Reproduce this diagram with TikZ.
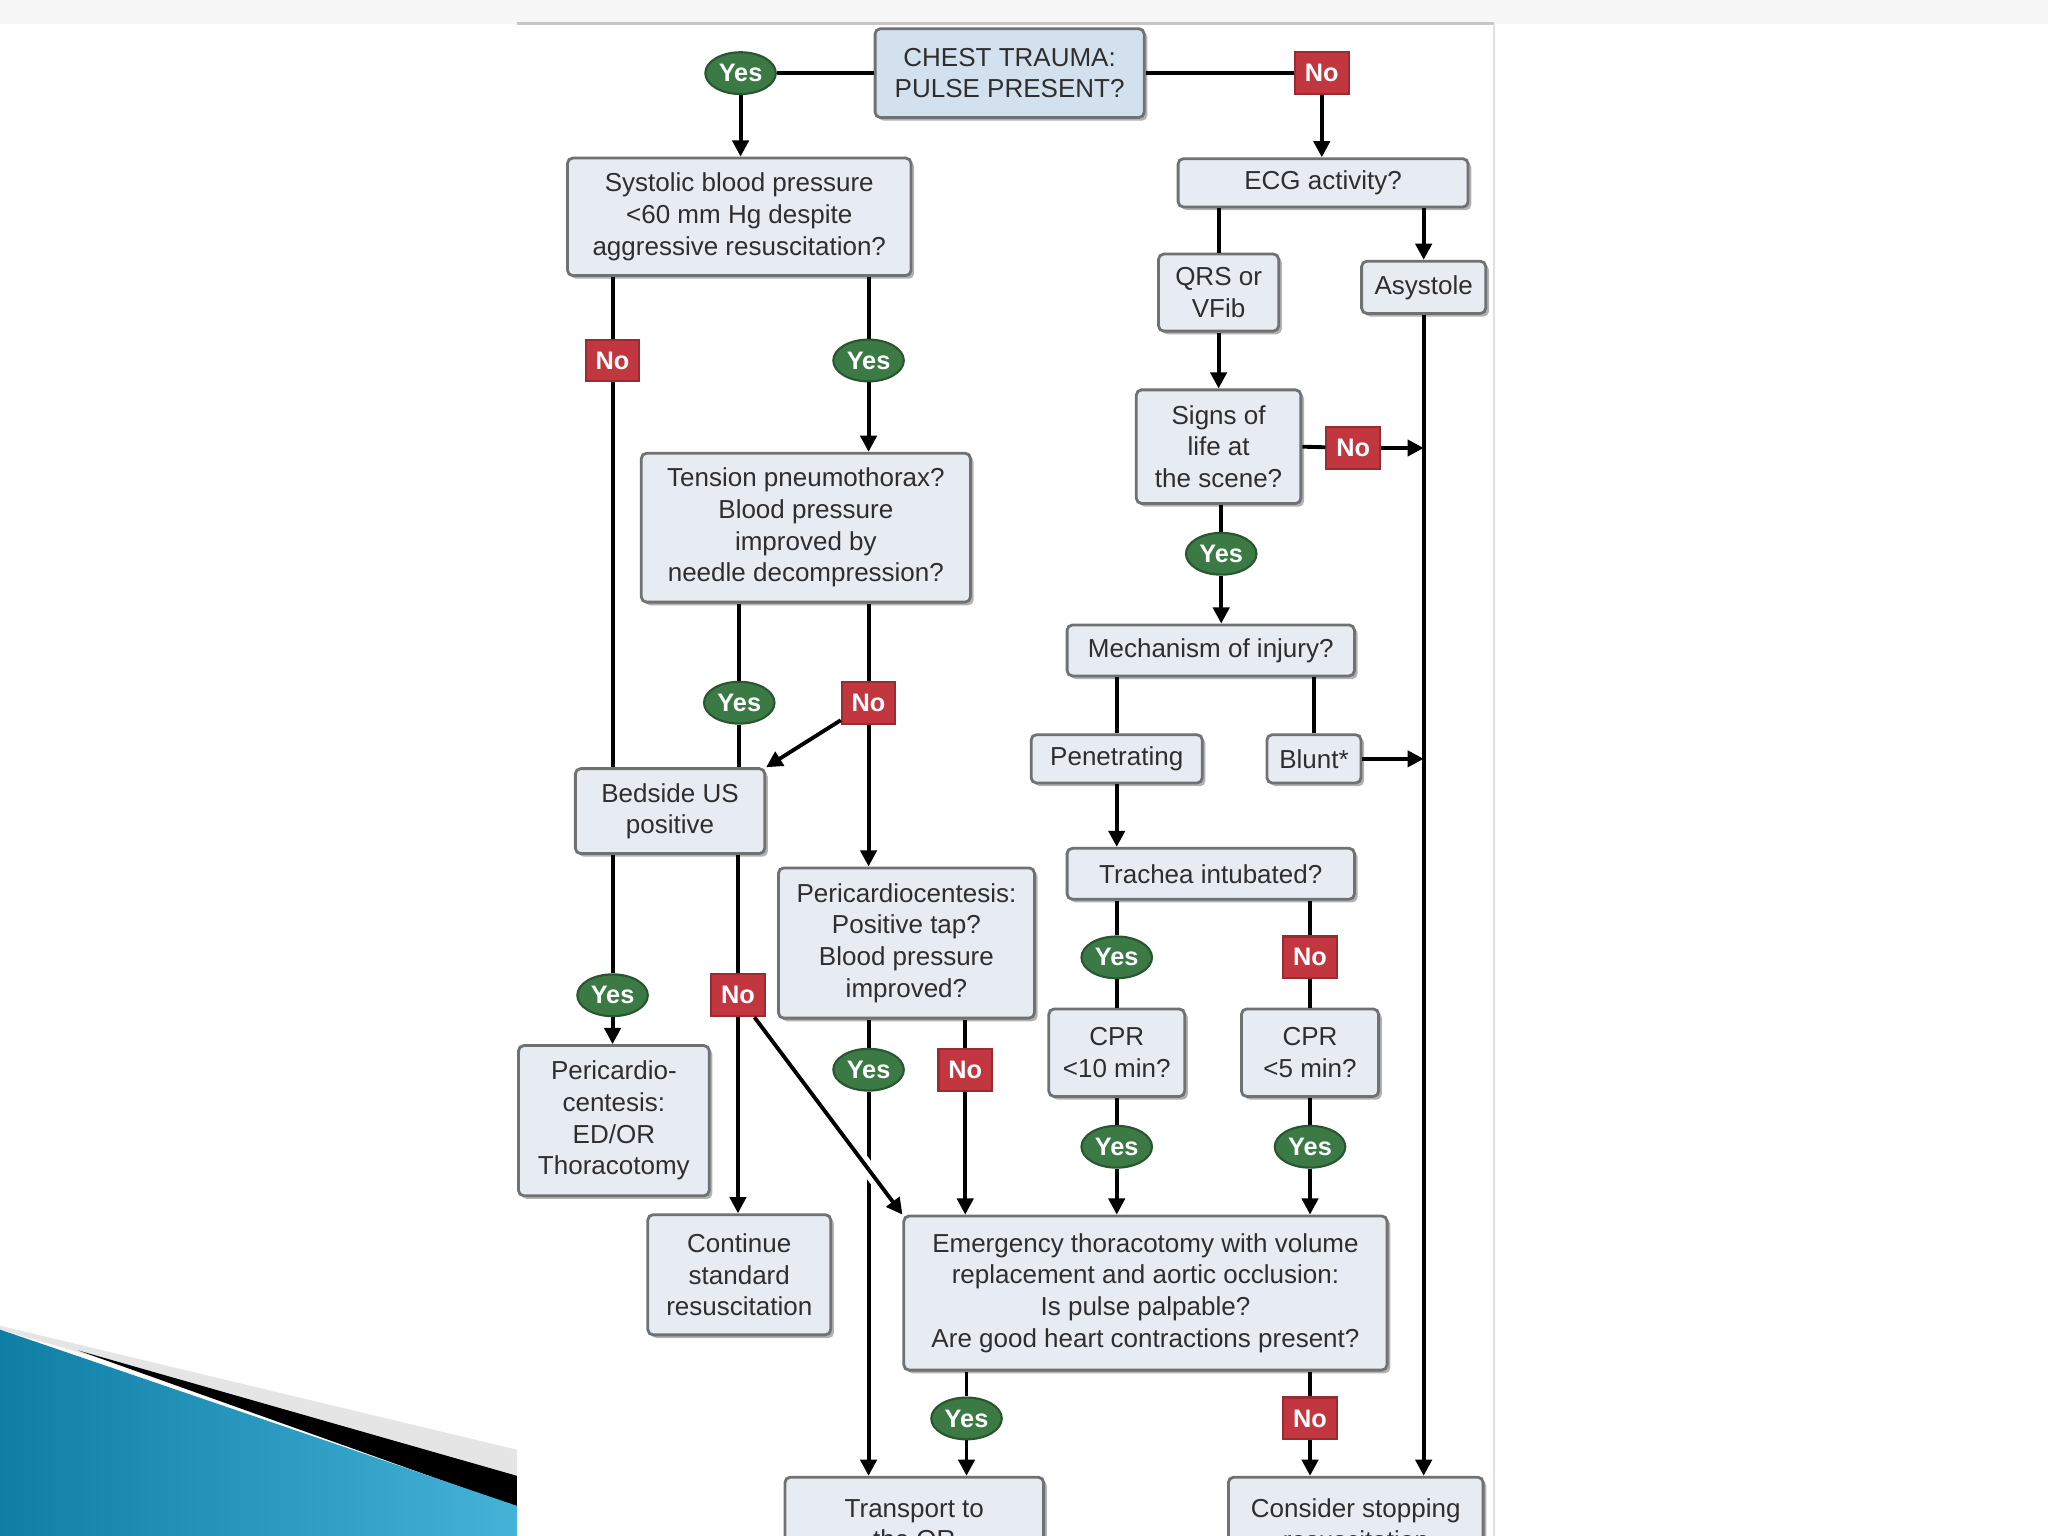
\documentclass[tikz,border=0pt]{standalone}
\usepackage{fontspec}
\setmainfont{Liberation Sans}
\usetikzlibrary{shapes.geometric,arrows.meta,shadows,calc}
\definecolor{boxfill}{HTML}{E7ECF2}
\definecolor{chestfill}{HTML}{D3E1EE}
\definecolor{boxline}{HTML}{6F7173}
\definecolor{yesgreen}{HTML}{3B7A45}
\definecolor{nored}{HTML}{C2363F}
\definecolor{txt}{HTML}{2E2E2E}
\definecolor{swdark}{HTML}{0F7EA5}
\definecolor{swlight}{HTML}{45B3D8}
\begin{document}
\begin{tikzpicture}[x=0.01306cm,y=-0.01306cm,
 box/.style={draw=boxline, line width=0.8pt, fill=boxfill, rounded corners=1.5pt, align=center, text=txt,
   font=\fontsize{7.4}{9}\selectfont, inner sep=1pt,
   drop shadow={shadow xshift=0.9pt,shadow yshift=-0.9pt,opacity=0.3,fill=black}},
 sz/.style 2 args={minimum width=#1*0.01306cm, minimum height=#2*0.01306cm},
 yes/.style={ellipse, fill=yesgreen, draw=yesgreen!70!black, line width=0.6pt, text=white,
   font=\fontsize{7.2}{8}\selectfont\bfseries, inner sep=0pt,
   minimum width=54*0.01306cm, minimum height=32*0.01306cm},
 no/.style={rectangle, fill=nored, draw=nored!80!black, line width=0.6pt, text=white,
   font=\fontsize{7.2}{8}\selectfont\bfseries, inner sep=0pt,
   minimum width=41*0.01306cm, minimum height=32*0.01306cm},
 conn/.style={line width=1.1pt, draw=black},
 arr/.style={conn, -{Triangle[length=4.6pt,width=4.6pt]}}
]
\useasboundingbox (0,0) rectangle (1568,1176);
\begin{scope}
\clip (0,0) rectangle (1568,1176);
% slide background
\fill[white] (0,0) rectangle (1568,1176);
\fill[black!3] (0,0) rectangle (1568,18);
% swoosh
\fill[black!10] (0,1015) -- (396,1110) -- (396,1132) -- (0,1018) -- cycle;
\fill[black] (60,1034) -- (396,1130) -- (396,1154) -- cycle;
\shade[left color=swdark, right color=swlight] (0,1018) -- (396,1153) -- (396,1176) -- (0,1176) -- cycle;
% panel
\fill[white] (396,18) rectangle (1144,1176);
\draw[black!22, line width=0.6pt] (396,18) -- (1144,18);
\draw[black!12, line width=0.6pt] (1144,18) -- (1144,1176);

% boxes
\node[box, sz={206}{68}, fill=chestfill] (chest) at (773,56) {CHEST TRAUMA:\\PULSE PRESENT?};
\node[box, sz={263}{90}] (sys) at (566,166) {Systolic blood pressure\\<60 mm Hg despite\\aggressive resuscitation?};
\node[box, sz={222}{37}] (ecg) at (1013,140) {ECG activity?};
\node[box, sz={92}{59}] (qrs) at (933,224) {QRS or\\VFib};
\node[box, sz={95}{40}] (asy) at (1090,220) {Asystole};
\node[box, sz={252}{114}] (tens) at (617,404) {Tension pneumothorax?\\Blood pressure\\improved by\\needle decompression?};
\node[box, sz={126}{87}] (signs) at (933,342) {Signs of\\life at\\the scene?};
\node[box, sz={220}{39}] (mech) at (927,498) {Mechanism of injury?};
\node[box, sz={131}{37}] (pen) at (855,581) {Penetrating};
\node[box, sz={72}{37}] (blunt) at (1006,581) {Blunt*};
\node[box, sz={145}{65}] (bed) at (513,621) {Bedside US\\positive};
\node[box, sz={196}{115}] (peri) at (694,722) {Pericardiocentesis:\\Positive tap?\\Blood pressure\\improved?};
\node[box, sz={220}{39}] (trach) at (927,669) {Trachea intubated?};
\node[box, sz={104}{67}] (cpra) at (855,806) {CPR\\<10 min?};
\node[box, sz={105}{67}] (cprb) at (1003,806) {CPR\\<5 min?};
\node[box, sz={146}{115}] (edor) at (470,858) {Pericardio-\\centesis:\\ED/OR\\Thoracotomy};
\node[box, sz={140}{92}] (cont) at (566,976) {Continue\\standard\\resuscitation};
\node[box, sz={370}{118}] (emer) at (877,990) {Emergency thoracotomy with volume\\replacement and aortic occlusion:\\Is pulse palpable?\\Are good heart contractions present?};
\node[box, sz={198}{72}] (trans) at (700,1167) {Transport to\\the OR};
\node[box, sz={195}{72}] (cons) at (1038,1167) {Consider stopping\\resuscitation};

% labels
\node[yes] (y1) at (567,56) {Yes};
\node[no]  (n1) at (1012,56) {No};
\node[no]  (n2) at (469,276) {No};
\node[yes] (y2) at (665,276) {Yes};
\node[no]  (n3) at (1036,343) {No};
\node[yes] (y3) at (935,424) {Yes};
\node[yes] (y4) at (566,538) {Yes};
\node[no]  (n4) at (665,538) {No};
\node[yes] (y5) at (855,733) {Yes};
\node[no]  (n5) at (1003,733) {No};
\node[yes] (y6) at (469,762) {Yes};
\node[no]  (n6) at (565,762) {No};
\node[yes] (y7) at (665,819) {Yes};
\node[no]  (n7) at (739,819) {No};
\node[yes] (y8) at (855,878) {Yes};
\node[yes] (y9) at (1003,878) {Yes};
\node[yes] (y10) at (740,1086) {Yes};
\node[no]  (n8) at (1003,1086) {No};

% connectors
\draw[conn] (chest.west) -- (y1);
\draw[arr] (y1) -- (y1 |- sys.north);
\draw[conn] (chest.east) -- (n1);
\draw[arr] (n1) -- (n1 |- ecg.north);
\draw[conn] (n2 |- sys.south) -- (n2) -- (n2 |- bed.north);
\draw[conn] (y2 |- sys.south) -- (y2);
\draw[arr] (y2) -- (y2 |- tens.north);
\draw[conn] (qrs |- ecg.south) -- (qrs.north);
\draw[arr] (asy |- ecg.south) -- (asy.north);
\draw[arr] (qrs.south) -- (qrs |- signs.north);
\draw[conn] (signs.east) -- (n3);
\draw[arr] (n3) -- (asy |- n3);
\draw[conn] (y3 |- signs.south) -- (y3);
\draw[arr] (y3) -- (y3 |- mech.north);
\draw[conn] (pen |- mech.south) -- (pen.north);
\draw[conn] (blunt |- mech.south) -- (blunt.north);
\draw[arr] (blunt.east) -- (asy |- blunt);
\draw[arr] (pen.south) -- (pen |- trach.north);
\draw[conn] (y5 |- trach.south) -- (y5) -- (y5 |- cpra.north);
\draw[conn] (n5 |- trach.south) -- (n5) -- (n5 |- cprb.north);
\draw[conn] (y8 |- cpra.south) -- (y8);
\draw[arr] (y8) -- (y8 |- emer.north);
\draw[conn] (y9 |- cprb.south) -- (y9);
\draw[arr] (y9) -- (y9 |- emer.north);
\draw[arr] (asy.south) -- (asy |- cons.north);
\draw[conn] (y4 |- tens.south) -- (y4) -- (y4 |- bed.north);
\draw[conn] (n4 |- tens.south) -- (n4);
\draw[arr] (n4) -- (n4 |- peri.north);
\draw[arr] (n4) -- (bed.north east);
\draw[conn] (y6 |- bed.south) -- (y6);
\draw[arr] (y6) -- (y6 |- edor.north);
\draw[conn] (n6 |- bed.south) -- (n6);
\draw[arr] (n6) -- (n6 |- cont.north);
\draw[conn] (y7 |- peri.south) -- (y7);
\draw[arr] (y7) -- (y7 |- trans.north);
\draw[white, line width=4pt] ($(n6)!0.72!(emer.north west)$) -- ($(n6)!0.86!(emer.north west)$);
\draw[arr] (n6) -- (emer.north west);
\draw[conn] (n7 |- peri.south) -- (n7);
\draw[arr] (n7) -- (n7 |- emer.north);
\draw[conn] (y10 |- emer.south) -- (y10);
\draw[arr] (y10) -- (y10 |- trans.north);
\draw[conn] (n8 |- emer.south) -- (n8);
\draw[arr] (n8) -- (n8 |- cons.north);
\end{scope}
\end{tikzpicture}
\end{document}
